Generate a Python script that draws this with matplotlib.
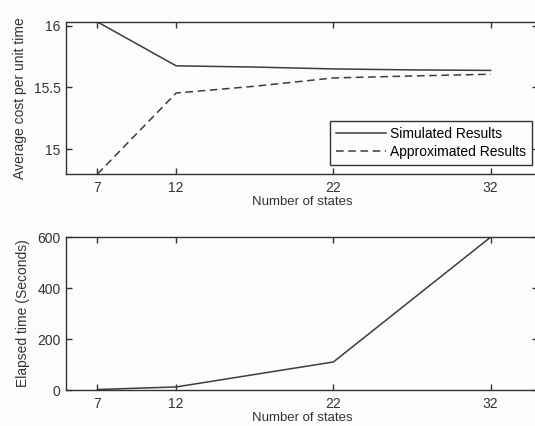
import matplotlib
matplotlib.use("Agg")
import matplotlib.pyplot as plt

# Cost comparison data
cost_states = [7, 12, 17, 22, 27, 32]
simulated_cost = [16.03, 15.675, 15.665, 15.65, 15.642, 15.638]
approximated_cost = [14.80, 15.455, 15.51, 15.577, 15.593, 15.607]

# Computation time data
time_states = [7, 12, 22, 32]
elapsed_seconds = [2, 12, 110, 600]

x_ticks = [7, 12, 22, 32]

plt.rcParams["font.family"] = ["Liberation Sans", "DejaVu Sans"]
line_color = "#3c3c3c"
text_color = "#333333"

fig = plt.figure(figsize=(5.35, 4.26), dpi=100, facecolor="#fcfcfc")
ax1 = fig.add_axes([0.1234, 0.5915, 0.882, 0.357])
ax2 = fig.add_axes([0.1234, 0.0845, 0.882, 0.359])

for ax in (ax1, ax2):
    ax.set_facecolor("#fcfcfc")
    ax.set_xlim(5, 35)
    ax.set_xticks(x_ticks)
    ax.tick_params(direction="in", length=4, width=1, top=True, right=True,
                   labelsize=10, colors=text_color, pad=4)
    ax.tick_params(axis="x", pad=5)
    for s in ax.spines.values():
        s.set_linewidth(1.0)
        s.set_color(text_color)
    ax.set_xlabel("Number of states", fontsize=9.5, color=text_color,
                  labelpad=0.5)

ax1.plot(cost_states, simulated_cost, "-", color=line_color, lw=1.1,
         label="Simulated Results")
ax1.plot(cost_states, approximated_cost, "--", color=line_color, lw=1.1,
         dashes=(5, 3), label="Approximated Results")
ax1.set_ylim(14.8, 16.03)
ax1.set_yticks([15, 15.5, 16])
ax1.set_yticklabels(["15", "15.5", "16"])
ax1.set_ylabel("Average cost per unit time", fontsize=10, color=text_color,
               labelpad=5)
leg = ax1.legend(loc="lower right", bbox_to_anchor=(0.988, 0.06),
                 fontsize=10, frameon=True, fancybox=False, handlelength=3.6,
                 handletextpad=0.3, borderpad=0.45, labelspacing=0.25,
                 borderaxespad=0)
leg.get_frame().set_edgecolor(text_color)
leg.get_frame().set_linewidth(1.0)
leg.get_frame().set_facecolor("#fcfcfc")
leg.get_frame().set_alpha(1)

ax2.plot(time_states, elapsed_seconds, "-", color=line_color, lw=1.1)
ax2.set_ylim(0, 600)
ax2.set_yticks([0, 200, 400, 600])
ax2.set_ylabel("Elapsed time (Seconds)", fontsize=10, color=text_color,
               labelpad=5)

fig.savefig("out.png", dpi=100, facecolor=fig.get_facecolor())
